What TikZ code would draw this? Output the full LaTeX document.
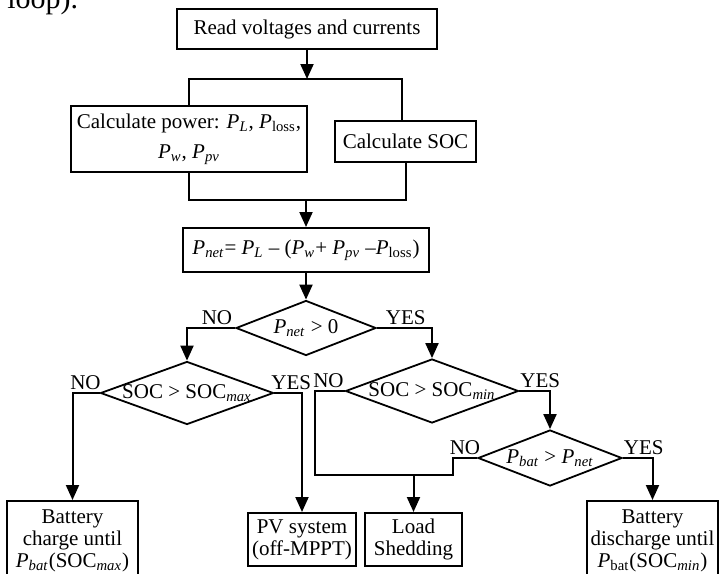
\documentclass[tikz,border=0pt]{standalone}
\usepackage{fontspec}
\setmainfont{Liberation Serif}
\usetikzlibrary{shapes.geometric,arrows.meta,positioning}
\newcommand{\Pv}[1]{\textit{P}\textsubscript{\textit{#1}}}
\newcommand{\Ploss}{\textit{P}\textsubscript{loss}}

\begin{document}
\begin{tikzpicture}[
      x=0.5pt,y=-0.5pt,
      font=\fontsize{10.5}{11}\selectfont,
      proc/.style={
        draw,
        line width=1pt,
        inner sep=0pt,
        align=center
      },
      deci/.style={
        draw,
        diamond,
        line width=0.9pt,
        inner sep=0pt
      },
      wire/.style={line width=1pt},
      arr/.style={wire,-{Triangle[length=7.5pt,width=6.5pt]}},
      lyes/.style={above right,inner sep=1pt},
      lno/.style={above left,inner sep=1pt}
      ]
      \useasboundingbox (0,0) rectangle (728,573);
      \node[anchor=base west,inner sep=0pt,font=\fontsize{15}{18}\selectfont]
        (cap) at (7,9) {loop).};

      % boxes
      \node[proc,minimum width=130pt,minimum height=20pt] (read) at (307,29)
        {Read voltages and currents};
      \node[proc,minimum width=118pt,minimum height=33pt,
        font=\fontsize{10.5}{15}\selectfont] (power) at (189,139)
        {Calculate power: \Pv{L}, \Ploss,\\ \Pv{w}, \Pv{pv}};
      \node[proc,minimum width=70.5pt,minimum height=20.5pt] (soc) at (405.5,141.5)
        {Calculate SOC};
      \node[proc,minimum width=123pt,minimum height=22pt] (pnet) at (306,250)
        {\Pv{net}= \Pv{L} -- (\Pv{w}+ \Pv{pv} --\Ploss)};

      % decisions
      \node[deci,minimum width=70pt,minimum height=27.5pt,
        label=center:{\Pv{net} > 0}] (d1) at (306,328) {};
      \node[deci,minimum width=86.5pt,minimum height=31.5pt,
        label=center:{SOC > SOC\textsubscript{\textit{max}}}] (d2) at (187,393) {};
      \node[deci,minimum width=86.5pt,minimum height=32pt,
        label=center:{SOC > SOC\textsubscript{\textit{min}}}] (d3) at (432,391) {};
      \node[deci,minimum width=72pt,minimum height=28pt,
        label=center:{\Pv{bat} > \Pv{net}}] (d4) at (550,458) {};

      % outcomes
      \node[proc,anchor=north,minimum width=65.5pt,minimum height=40pt,
        inner ysep=3pt] (chg) at (72.5,500)
        {Battery\\ charge until\\ \Pv{bat}(SOC\textsubscript{\textit{max}})};
      \node[proc,minimum width=54pt,minimum height=26.5pt] (pv) at (302,539.5)
        {PV system\\ (off-MPPT)};
      \node[proc,minimum width=48.5pt,minimum height=26.5pt] (load) at (413.5,539.5)
        {Load\\ Shedding};
      \node[proc,anchor=north,minimum width=65.5pt,minimum height=40pt,
        inner ysep=3pt] (dis) at (652.5,500)
        {Battery\\ discharge until\\ \textit{P}\textsubscript{bat}(SOC\textsubscript{\textit{min}})};

      \coordinate (fork) at (307,79);
      \coordinate (merge) at (306,200);
      \coordinate (j1) at (315,475);
      \coordinate (j2) at (453,475);

      \draw[arr] (read) -- (fork);
      \draw[wire] (power.north) |- (fork) -| ([xshift=-2pt]soc.north);
      \draw[wire] (power.south) |- (merge) -| (soc.south);
      \draw[arr] (merge) -- (pnet);
      \draw[arr] (pnet) -- (d1);

      \draw[arr] (d1.west) -| node[lno,pos=0] {NO} (d2);
      \draw[arr] (d1.east) -| node[lyes,pos=0,xshift=3pt] {YES} (d3);
      \draw[arr] (d2.west) -| node[lno,pos=0,xshift=2pt] {NO} (chg);
      \draw[arr] (d2.east) -| node[lyes,pos=0,xshift=-3pt] {YES} (pv);
      \draw[arr] (d3.east) -| node[lyes,pos=0,xshift=-1pt] {YES} (d4);
      \draw[arr] (d4.east) -| node[lyes,pos=0,xshift=-1pt] {YES} (dis);
      \draw[wire] (d3.west) -| node[lno,pos=0,xshift=1pt] {NO} (j1) -- (j2)
        |- (d4.west) node[lno,xshift=3pt] {NO};
      \draw[arr] (load.north |- j1) -- (load);
    \end{tikzpicture}
\end{document}
